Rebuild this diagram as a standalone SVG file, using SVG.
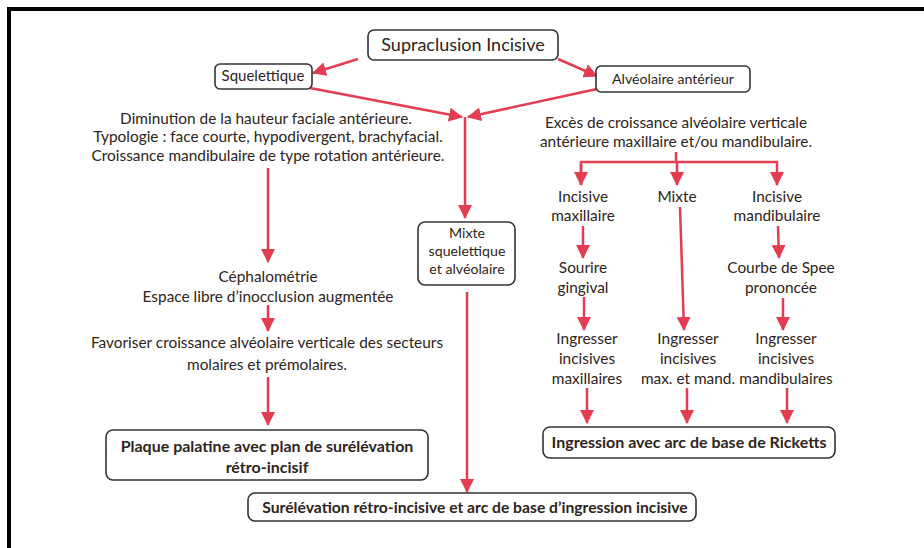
<svg xmlns="http://www.w3.org/2000/svg" width="924" height="548" viewBox="0 0 924 548">
<defs>
<style>
.t{font-family:Lato,"Liberation Sans",sans-serif;font-size:15.4px;fill:#2e2420;text-anchor:middle}
.s{font-size:14.2px}
.b{font-weight:bold;font-size:16px}
.box{fill:#fff;stroke:#333;stroke-width:1.6}
.c{fill:none;stroke:#e43c50;stroke-width:2.5}
</style>
<marker id="ah" viewBox="0 0 14 14" markerWidth="14" markerHeight="14" refX="13" refY="7" orient="auto" markerUnits="userSpaceOnUse">
<path d="M0,0 L14,7 L0,14 z" fill="#e43c50"/>
</marker>
</defs>
<rect width="924" height="548" fill="#fff"/>
<path d="M9,548 V9 H924" fill="none" stroke="#000" stroke-width="4"/>

<g id="connectors">
<line class="c" x1="358" y1="59" x2="313" y2="73" marker-end="url(#ah)"/>
<line class="c" x1="558" y1="59" x2="597" y2="76" marker-end="url(#ah)"/>
<line class="c" x1="310" y1="88" x2="462" y2="117" marker-end="url(#ah)"/>
<line class="c" x1="597" y1="89" x2="468" y2="117" marker-end="url(#ah)"/>
<line class="c" x1="465" y1="117" x2="465" y2="218" marker-end="url(#ah)"/>
<line class="c" x1="467" y1="292" x2="467" y2="492" marker-end="url(#ah)"/>
<line class="c" x1="268" y1="168" x2="268" y2="262" marker-end="url(#ah)"/>
<line class="c" x1="268" y1="305" x2="268" y2="331" marker-end="url(#ah)"/>
<line class="c" x1="268" y1="377" x2="268" y2="425" marker-end="url(#ah)"/>
<polyline class="c" points="676,152 676,162"/>
<polyline class="c" points="581,185 581,162 777,162 777,185" marker-end="url(#ah)"/>
<line class="c" x1="581" y1="164" x2="581" y2="185" marker-end="url(#ah)"/>
<line class="c" x1="677" y1="162" x2="677" y2="185" marker-end="url(#ah)"/>
<line class="c" x1="583" y1="226" x2="583" y2="258" marker-end="url(#ah)"/>
<line class="c" x1="584" y1="297" x2="584" y2="330" marker-end="url(#ah)"/>
<line class="c" x1="680" y1="207" x2="684" y2="330" marker-end="url(#ah)"/>
<line class="c" x1="778" y1="226" x2="779" y2="258" marker-end="url(#ah)"/>
<line class="c" x1="783" y1="298" x2="783" y2="330" marker-end="url(#ah)"/>
<line class="c" x1="587" y1="388" x2="587" y2="423" marker-end="url(#ah)"/>
<line class="c" x1="687" y1="388" x2="687" y2="423" marker-end="url(#ah)"/>
<line class="c" x1="787" y1="388" x2="787" y2="423" marker-end="url(#ah)"/>
</g>

<g id="supraclusion">
<rect class="box" x="368" y="30" width="190" height="30" rx="6"/>
<text class="t" x="463" y="51" style="font-size:18px">Supraclusion Incisive</text>
</g>
<g id="squelettique">
<rect class="box" x="215" y="64" width="97" height="25" rx="5"/>
<text class="t" x="263" y="81" style="font-size:15px">Squelettique</text>
</g>
<g id="alveolaire">
<rect class="box" x="596" y="66" width="154" height="26" rx="5"/>
<text class="t s" x="673" y="84">Alvéolaire antérieur</text>
</g>
<g id="diminution">
<text class="t" x="266" y="124">Diminution de la hauteur faciale antérieure.</text>
<text class="t" x="268" y="142">Typologie : face courte, hypodivergent, brachyfacial.</text>
<text class="t" x="268" y="161">Croissance mandibulaire de type rotation antérieure.</text>
</g>
<g id="cephalometrie">
<text class="t" x="268" y="282">Céphalométrie</text>
<text class="t" x="268" y="302">Espace libre d’inocclusion augmentée</text>
</g>
<g id="favoriser">
<text class="t" x="267" y="348">Favoriser croissance alvéolaire verticale des secteurs</text>
<text class="t" x="267" y="370">molaires et prémolaires.</text>
</g>
<g id="plaque">
<rect class="box" x="106" y="430" width="322" height="50" rx="7"/>
<text class="t b" x="267" y="452">Plaque palatine avec plan de surélévation</text>
<text class="t b" x="267" y="473">rétro-incisif</text>
</g>
<g id="mixte-sq">
<rect class="box" x="418" y="222" width="97" height="63" rx="7"/>
<text class="t s" x="467" y="238">Mixte</text>
<text class="t s" x="467" y="256">squelettique</text>
<text class="t s" x="467" y="274">et alvéolaire</text>
</g>
<g id="surelevation">
<rect class="box" x="248" y="493" width="448" height="28" rx="7"/>
<text class="t b" x="475" y="513" style="font-size:15.7px">Surélévation rétro-incisive et arc de base d’ingression incisive</text>
</g>
<g id="exces">
<text class="t" x="676" y="128">Excès de croissance alvéolaire verticale</text>
<text class="t" x="676" y="147">antérieure maxillaire et/ou mandibulaire.</text>
</g>
<g id="inc-max">
<text class="t" x="583" y="202">Incisive</text>
<text class="t" x="583" y="221">maxillaire</text>
</g>
<g id="mixte">
<text class="t" x="677" y="202">Mixte</text>
</g>
<g id="inc-mand">
<text class="t" x="777" y="202">Incisive</text>
<text class="t" x="777" y="221">mandibulaire</text>
</g>
<g id="sourire">
<text class="t" x="583" y="273">Sourire</text>
<text class="t" x="583" y="293">gingival</text>
</g>
<g id="courbe">
<text class="t" x="781" y="273">Courbe de Spee</text>
<text class="t" x="781" y="293">prononcée</text>
</g>
<g id="ingr-max">
<text class="t" x="587" y="344">Ingresser</text>
<text class="t" x="587" y="364">incisives</text>
<text class="t" x="587" y="384">maxillaires</text>
</g>
<g id="ingr-mixte">
<text class="t" x="688" y="344">Ingresser</text>
<text class="t" x="688" y="364">incisives</text>
<text class="t" x="688" y="384">max. et mand.</text>
</g>
<g id="ingr-mand">
<text class="t" x="786" y="344">Ingresser</text>
<text class="t" x="786" y="364">incisives</text>
<text class="t" x="786" y="384">mandibulaires</text>
</g>
<g id="ingression">
<rect class="box" x="543" y="427" width="292" height="31" rx="7"/>
<text class="t b" x="689" y="448">Ingression avec arc de base de Ricketts</text>
</g>
</svg>
